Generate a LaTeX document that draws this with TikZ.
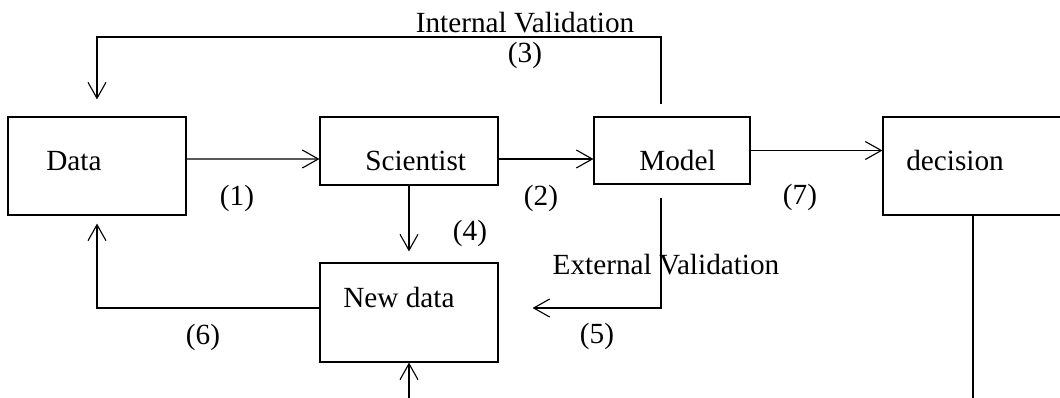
\documentclass[tikz,border=0pt]{standalone}
\usepackage{fontspec}
\setmainfont{Liberation Serif}
\usepackage{tikz}
\usetikzlibrary{calc,arrows.meta}
\tikzset{
myBox/.style={
	rectangle,draw,line width=0.8pt,
	inner sep=0pt
}
, myText/.style={anchor=base west,inner sep=0pt}
, myLabel/.style={inner sep=0pt}
% links
, myFlow/.style={-{Straight Barb[length=4mm,width=4.5mm]},line width=0.8pt}
, myLine/.style={line width=0.8pt}
}

\begin{document}
\begin{tikzpicture}[font=\fontsize{20.8pt}{25pt}\selectfont]
	\useasboundingbox (0,0) rectangle (26.5,-9.925);
	% boxes
	\node[myBox,minimum width=4.45cm,minimum height=2.45cm] (Data) at (2.425,-4.15) {};
	\node[myBox,minimum width=4.45cm,minimum height=1.7cm] (Scientist) at (10.225,-3.775) {};
	\node[myBox,minimum width=3.9cm,minimum height=1.675cm] (Model) at (16.8,-3.7625) {};
	\node[myBox,minimum width=5.425cm,minimum height=2.45cm] (decision) at (24.7875,-4.15) {};
	\node[myBox,minimum width=4.45cm,minimum height=2.475cm] (NewData) at (10.225,-7.8125) {};
	% box texts
	\node[myText] (DataTxt) at (1.15,-4.25) {Data};
	\node[myText] (ScientistTxt) at (9.125,-4.25) {Scientist};
	\node[myText] (ModelTxt) at (15.975,-4.25) {Model};
	\node[myText] (decisionTxt) at (22.65,-4.25) {decision};
	\node[myText] (NewDataTxt) at (8.575,-7.675) {New data};
	% labels
	\node[myLabel,anchor=base] (IntVal) at (13.125,-0.8) {Internal Validation};
	\node[myLabel] (L3) at (13.125,-1.375) {(3)};
	\node[myLabel] (L1) at (5.925,-4.95) {(1)};
	\node[myLabel] (L2) at (13.525,-4.95) {(2)};
	\node[myLabel] (L7) at (20.0,-4.925) {(7)};
	\node[myLabel] (L4) at (11.75,-5.825) {(4)};
	\node[myLabel,anchor=base] (ExtVal) at (16.65,-6.85) {External Validation};
	\node[myLabel] (L6) at (5.075,-8.425) {(6)};
	\node[myLabel] (L5) at (14.925,-8.4) {(5)};

	% links
	\draw [myFlow] ($(Data.east)+(0,0.175)$) -- ($(Scientist.west)+(0,-0.2)$);
	\draw [myFlow] ($(Scientist.east)+(0,-0.2)$) -- ($(Model.west)+(0,-0.2125)$);
	\draw [myFlow] (Model.east) -- (Model.east -| decision.west);
	\draw [myFlow] (Scientist.south) -- ($(NewData.north)+(0,0.275)$);
	\coordinate (ivTop) at (0,-0.925);
	\draw [myFlow] ($(Model.north)+(-0.275,0.3)$) |- (ivTop -| Data.north) -- ($(Data.north)+(0,0.425)$);
	\draw [myFlow] ($(Model.south)+(-0.275,-0.325)$) |- ($(NewData.east)+(0.85,0.1125)$);
	\draw [myFlow] ($(NewData.west)+(0,0.1125)$) -| ($(Data.south)+(0,-0.2)$);
	\coordinate (ndIn) at (10.225,-10.2);
	\draw [myFlow] (ndIn) -- (NewData.south);
	\coordinate (decOut) at (24.325,-10.2);
	\draw [myLine] (decision.south -| decOut) -- (decOut);
\end{tikzpicture}
\end{document}
